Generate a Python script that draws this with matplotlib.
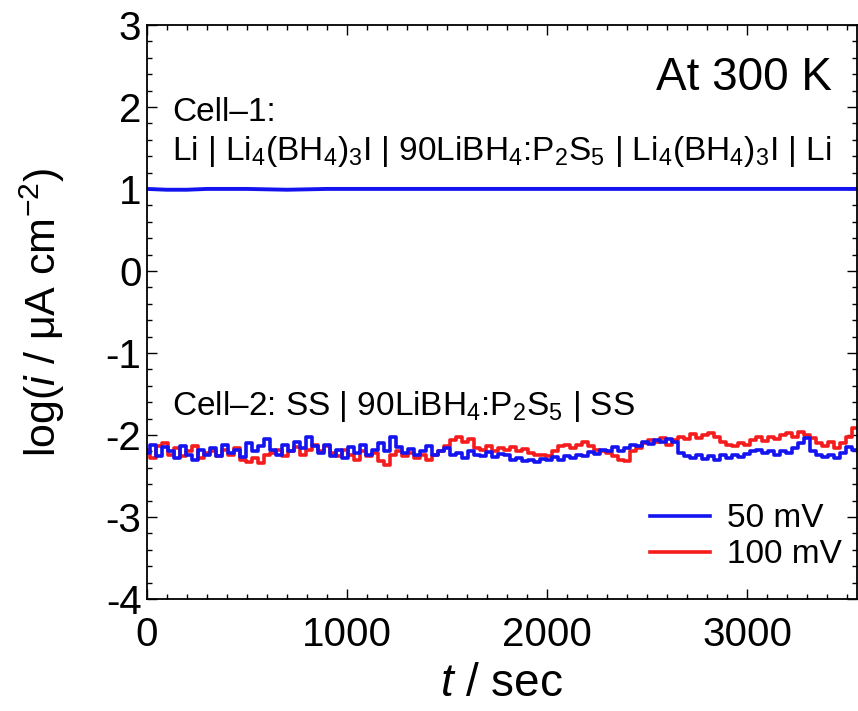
import matplotlib.pyplot as plt
import numpy as np

plt.rcParams['font.family'] = ['Liberation Sans', 'DejaVu Sans']
plt.rcParams['mathtext.fontset'] = 'custom'
plt.rcParams['mathtext.rm'] = 'Liberation Sans'
plt.rcParams['mathtext.it'] = 'Liberation Sans:italic'
plt.rcParams['mathtext.default'] = 'regular'
plt.rcParams['axes.unicode_minus'] = False

# Cell-1: Li | Li4(BH4)3I | 90LiBH4:P2S5 | Li4(BH4)3I | Li, 50 mV
t_cell1 = [0, 100, 200, 300, 500, 700, 900, 1200, 1500, 2000, 2500, 3000, 3550]
log_i_cell1 = [1.00, 0.99, 0.99, 1.00, 1.00, 0.99, 1.00, 1.00, 1.00, 1.00, 1.00, 1.00, 1.00]

# Cell-2: SS | 90LiBH4:P2S5 | SS, sampled every 30 s
t_cell2 = np.arange(0, 3541, 30)
log_i_50mV = [
    -2.22, -2.12, -2.26, -2.15, -2.20, -2.28, -2.14, -2.24, -2.30, -2.18, -2.25,
    -2.16, -2.26, -2.12, -2.22, -2.18, -2.27, -2.10, -2.20, -2.14, -2.05,
    -2.18, -2.24, -2.12, -2.20, -2.08, -2.16, -2.03, -2.14, -2.22, -2.12,
    -2.26, -2.18, -2.28, -2.15, -2.22, -2.12, -2.25, -2.18, -2.10, -2.20,
    -2.02, -2.15, -2.22, -2.17, -2.25, -2.19, -2.14, -2.24, -2.20, -2.16,
    -2.25, -2.22, -2.28, -2.20, -2.24, -2.26, -2.21, -2.27, -2.23, -2.25,
    -2.30, -2.28, -2.32, -2.30, -2.33, -2.29, -2.31, -2.27, -2.30, -2.26,
    -2.28, -2.24, -2.26, -2.21, -2.23, -2.18, -2.20, -2.15, -2.19, -2.16,
    -2.12, -2.14, -2.08, -2.11, -2.06, -2.09, -2.05, -2.08, -2.22, -2.26,
    -2.28, -2.24, -2.29, -2.26, -2.30, -2.25, -2.28, -2.24, -2.27, -2.23,
    -2.20, -2.18, -2.22, -2.19, -2.24, -2.20, -2.22, -2.16, -2.10, -2.04,
    -2.20, -2.25, -2.27, -2.24, -2.28, -2.22, -2.15, -2.18,
]
log_i_100mV = [
    -2.18, -2.28, -2.14, -2.10, -2.24, -2.16, -2.26, -2.20, -2.14, -2.28, -2.22,
    -2.20, -2.26, -2.18, -2.24, -2.16, -2.30, -2.33, -2.28, -2.34, -2.25,
    -2.22, -2.18, -2.26, -2.20, -2.15, -2.24, -2.18, -2.12, -2.20, -2.14,
    -2.22, -2.26, -2.18, -2.24, -2.30, -2.20, -2.26, -2.22, -2.32, -2.36,
    -2.24, -2.20, -2.26, -2.22, -2.28, -2.24, -2.30, -2.25, -2.20, -2.14,
    -2.06, -2.02, -2.08, -2.05, -2.16, -2.18, -2.14, -2.20, -2.16, -2.18,
    -2.15, -2.20, -2.17, -2.22, -2.25, -2.24, -2.26, -2.20, -2.14, -2.12,
    -2.16, -2.12, -2.08, -2.14, -2.18, -2.20, -2.22, -2.26, -2.30, -2.32,
    -2.20, -2.16, -2.10, -2.06, -2.08, -2.04, -2.12, -2.06, -2.02, -2.05,
    -1.99, -2.04, -2.00, -1.97, -2.03, -2.08, -2.12, -2.14, -2.10, -2.12,
    -2.06, -2.03, -2.07, -2.02, -2.05, -2.00, -1.98, -2.02, -1.96, -2.00,
    -2.04, -2.10, -2.14, -2.08, -2.16, -2.10, -2.02, -1.92,
]

blue = '#1414f0'
red = '#f41c1c'

fig = plt.figure(figsize=(8.58, 7.11), dpi=100)
ax = fig.add_axes([0.1713, 0.1575, 0.8275, 0.8075])

ax.plot(t_cell1, log_i_cell1, color=blue, lw=2.8)
ax.plot(t_cell2, log_i_100mV, color=red, lw=2.6, drawstyle='steps-mid',
        label='100 mV')
ax.plot(t_cell2, log_i_50mV, color=blue, lw=2.6, drawstyle='steps-mid',
        label='50 mV')

ax.set_xlim(0, 3550)
ax.set_ylim(-4, 3)
ax.set_xticks([0, 1000, 2000, 3000])
ax.set_xticks(np.arange(0, 3551, 100), minor=True)
ax.set_yticks(range(-4, 4))
ax.set_yticks(np.arange(-4, 3.01, 0.2), minor=True)

ax.tick_params(which='both', direction='in', top=True, right=True, width=1.0)
ax.tick_params(which='major', length=7, labelsize=29)
ax.tick_params(which='minor', length=3.5)
ax.tick_params(axis='x', pad=12)
ax.tick_params(axis='y', pad=4)
for s in ax.spines.values():
    s.set_linewidth(1.3)

ax.set_xlabel(r'$\mathit{t}$ / sec', fontsize=33)
ax.xaxis.set_label_coords(0.5, -0.11)
ax.set_ylabel(r'log($\mathit{i}$ / μA cm$^{-2}$)', fontsize=31)
ax.yaxis.set_label_coords(-0.112, 0.5)

ax.text(0.965, 0.908, 'At 300 K', transform=ax.transAxes, fontsize=33,
        ha='right', va='center')
ax.text(0.035, 0.848, 'Cell–1:', transform=ax.transAxes, fontsize=24,
        ha='left', va='center')
ax.text(0.035, 0.78,
        r'Li | Li$_4$(BH$_4$)$_3$I | 90LiBH$_4$:P$_2$S$_5$ | Li$_4$(BH$_4$)$_3$I | Li',
        transform=ax.transAxes, fontsize=24, ha='left', va='center')
ax.text(0.035, 0.335, r'Cell–2: SS | 90LiBH$_4$:P$_2$S$_5$ | SS',
        transform=ax.transAxes, fontsize=24, ha='left', va='center')

h, l = ax.get_legend_handles_labels()
ax.legend(h[::-1], l[::-1], loc='upper left', bbox_to_anchor=(0.69, 0.19),
          frameon=False, fontsize=24, handlelength=1.8, handletextpad=0.5,
          labelspacing=0.15, borderaxespad=0)

plt.savefig('out.png', dpi=100)
